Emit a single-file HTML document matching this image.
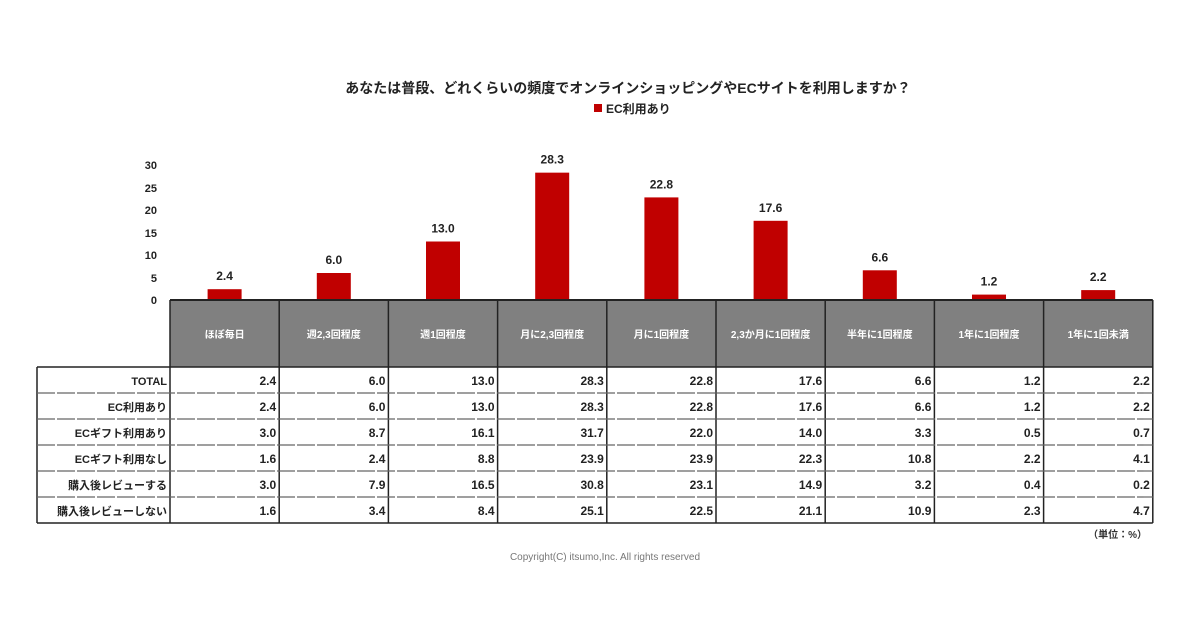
<!DOCTYPE html>
<html><head><meta charset="utf-8"><style>
html,body{margin:0;padding:0;background:#fff;}
svg{display:block;font-family:"Liberation Sans","Noto Sans CJK JP",sans-serif;}
</style></head><body>
<svg width="1200" height="630" viewBox="0 0 1200 630" xmlns="http://www.w3.org/2000/svg">
<rect width="1200" height="630" fill="#fff"/>
<text x="628" y="93" font-size="14" font-weight="bold" text-anchor="middle" fill="#222">あなたは普段、どれくらいの頻度でオンラインショッピングやECサイトを利用しますか？</text>
<rect x="594" y="104" width="8" height="8" fill="#c00000"/>
<text x="606" y="113" font-size="12" font-weight="bold" fill="#222">EC利用あり</text>
<g font-size="11" font-weight="bold" fill="#222" text-anchor="end">
<text x="157" y="169">30</text><text x="157" y="192">25</text><text x="157" y="214">20</text>
<text x="157" y="237">15</text><text x="157" y="259">10</text><text x="157" y="282">5</text><text x="157" y="304">0</text>
</g>
<g id="bars"></g>
<script>
const vals=[2.4,6.0,13.0,28.3,22.8,17.6,6.6,1.2,2.2];
const heads=["ほぼ毎日","週2,3回程度","週1回程度","月に2,3回程度","月に1回程度","2,3か月に1回程度","半年に1回程度","1年に1回程度","1年に1回未満"];
const rows=[["TOTAL",2.4,6.0,13.0,28.3,22.8,17.6,6.6,1.2,2.2],["EC利用あり",2.4,6.0,13.0,28.3,22.8,17.6,6.6,1.2,2.2],["ECギフト利用あり",3.0,8.7,16.1,31.7,22.0,14.0,3.3,0.5,0.7],["ECギフト利用なし",1.6,2.4,8.8,23.9,23.9,22.3,10.8,2.2,4.1],["購入後レビューする",3.0,7.9,16.5,30.8,23.1,14.9,3.2,0.4,0.2],["購入後レビューしない",1.6,3.4,8.4,25.1,22.5,21.1,10.9,2.3,4.7]];
const NS="http://www.w3.org/2000/svg";const g=document.getElementById("bars");
function el(t,a,txt){const e=document.createElementNS(NS,t);for(const k in a)e.setAttribute(k,a[k]);if(txt!==undefined)e.textContent=txt;g.appendChild(e);return e;}
const x0=170,cw=109.2,y0=300;
el("rect",{x:x0,y:300,width:cw*9,height:67,fill:"#808080"});
vals.forEach((v,i)=>{const cx=x0+cw*i+cw/2;const h=v*4.5;
el("rect",{x:cx-17,y:y0-h,width:34,height:h,fill:"#c00000"});
el("text",{x:cx,y:y0-h-9,"font-size":12,"font-weight":"bold","text-anchor":"middle",fill:"#222"},v.toFixed(1));
el("text",{x:cx,y:338,"font-size":10,"font-weight":"bold","text-anchor":"middle",fill:"#fff"},heads[i]);});
el("line",{x1:x0,y1:300,x2:x0+cw*9,y2:300,stroke:"#222","stroke-width":2});
for(let i=0;i<=9;i++){const x=x0+cw*i;el("line",{x1:x,y1:300,x2:x,y2:523,stroke:"#222","stroke-width":1.5});}
el("line",{x1:37,y1:367,x2:x0+cw*9,y2:367,stroke:"#222","stroke-width":1.5});
el("line",{x1:37,y1:523,x2:x0+cw*9,y2:523,stroke:"#222","stroke-width":1.5});
el("line",{x1:37,y1:367,x2:37,y2:523,stroke:"#222","stroke-width":1.5});
for(let r=1;r<6;r++){const y=367+26*r;el("line",{x1:37,y1:y,x2:x0+cw*9,y2:y,stroke:"#666","stroke-width":1.2,"stroke-dasharray":"18 2"});}
rows.forEach((row,r)=>{const y=367+26*r+18;
el("text",{x:x0-3,y:y,"font-size":11,"font-weight":"bold","text-anchor":"end",fill:"#222"},row[0]);
for(let i=1;i<10;i++)el("text",{x:x0+cw*i-3,y:y,"font-size":12,"font-weight":"bold","text-anchor":"end",fill:"#222"},row[i].toFixed(1));});
</script>
<text x="1147" y="538" font-size="10" font-weight="bold" text-anchor="end" fill="#333">（単位：%）</text>
<text x="605" y="560" font-size="10" text-anchor="middle" fill="#777">Copyright(C) itsumo,Inc. All rights reserved</text>
</svg>
</body></html>
